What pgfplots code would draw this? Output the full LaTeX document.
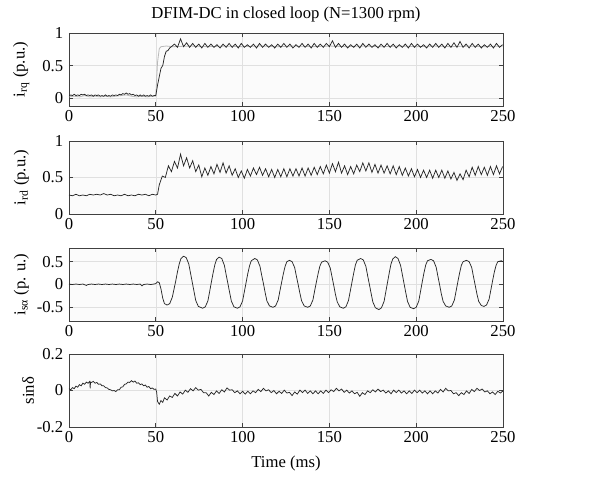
\documentclass[border=0pt]{standalone}
\usepackage{fontspec}
\setmainfont{Liberation Serif}
\usepackage{pgfplots}
\pgfplotsset{compat=1.18}
\begin{document}
\fontsize{12.5}{15}\selectfont
\begin{tikzpicture}
\useasboundingbox (-51.75pt,24.75pt) rectangle (403.5pt,-333pt);
\pgfplotsset{
  panel/.style={
    scale only axis, width=325.5pt, height=54.75pt,
    anchor=north west,
    xmin=0, xmax=250, xtick={0,50,100,150,200,250},
    tick align=inside, xtick pos=both, ytick pos=both,
    major tick length=3pt,
    grid=major, major grid style={black!12, line width=0.4pt},
    axis line style={black!75, line width=0.5pt},
    every tick/.style={black!75, line width=0.5pt},
    axis background/.style={fill=black!1.5},
    tick label style={font=\fontsize{12.5}{15}\selectfont},
    label style={font=\fontsize{12.5}{15}\selectfont},
    xticklabel style={yshift=1pt},
    /pgf/number format/assume math mode=true,
    every axis y label/.style={at={(axis description cs:-0.11,0.5)}, rotate=90, anchor=center},
  },
  sig/.style={black!85, line width=0.55pt, mark=none},
}
% ---------- panel 1: i_rq ----------
\begin{axis}[panel, at={(0pt,0pt)}, ymin=-0.12, ymax=1.0, ytick={0,0.5,1},
  title={DFIM-DC in closed loop (N=1300 rpm)},
  title style={font=\fontsize{12.5}{15}\selectfont, yshift=-2pt},
  ylabel={i\textsubscript{rq} (p.u.)}]
\addplot[gray!55, line width=0.6pt] coordinates {
(0,0.02)(3,0.03)(6,0.02)(9,0.04)(12,0.02)(15,0.03)(18,0.02)(21,0.03)(24,0.02)(27,0.03)(30,0.04)(33,0.05)(36,0.03)(39,0.02)(42,0.03)(45,0.02)(48,0.03)(50,0.03)(51,0.55)(52,0.76)(53,0.79)(56,0.80)(60,0.79)(70,0.80)(80,0.79)(90,0.80)(100,0.79)(110,0.80)(120,0.79)(130,0.80)(140,0.79)(150,0.80)(160,0.79)(170,0.80)(180,0.79)(190,0.80)(200,0.79)(210,0.80)(220,0.79)(230,0.80)(240,0.79)(250,0.80)};
\addplot[sig] coordinates {
(0,0.03)(1,0.05)(2,0.04)(3,0.06)(4,0.04)(5,0.05)(6,0.04)(7,0.06)(8,0.05)(9,0.06)(10,0.04)(11,0.05)(12,0.04)(13,0.05)(14,0.03)(15,0.05)(16,0.04)(17,0.05)(18,0.03)(19,0.04)(20,0.03)(21,0.05)(22,0.03)(23,0.04)(24,0.03)(25,0.05)(26,0.04)(27,0.05)(28,0.04)(29,0.06)(30,0.05)(31,0.07)(32,0.06)(33,0.08)(34,0.06)(35,0.07)(36,0.05)(37,0.06)(38,0.04)(39,0.05)(40,0.03)(41,0.05)(42,0.03)(43,0.05)(44,0.03)(45,0.04)(46,0.03)(47,0.05)(48,0.03)(49,0.04)(50,0.04)(51,0.20)(52,0.33)(53,0.46)(54,0.50)(55,0.64)(56,0.72)(57,0.73)(58,0.77)
(59,0.79)(60.75,0.83)(62.5,0.78)(64.25,0.91)(66,0.79)(67.75,0.85)(69.5,0.78)(71.25,0.84)(73,0.78)(74.75,0.83)(76.5,0.77)(78.25,0.84)(80,0.78)(81.75,0.83)(83.5,0.78)(85.25,0.82)(87,0.77)(88.75,0.83)(90.5,0.78)(92.25,0.84)(94,0.78)(95.75,0.83)(97.5,0.77)(99.25,0.84)(101,0.78)(102.75,0.82)(104.5,0.78)(106.25,0.83)(108,0.77)(109.75,0.84)(111.5,0.78)(113.25,0.83)(115,0.78)(116.75,0.82)(118.5,0.77)(120.25,0.83)(122,0.78)(123.75,0.84)(125.5,0.78)(127.25,0.83)(129,0.77)(130.75,0.82)(132.5,0.78)(134.25,0.84)(136,0.78)(137.75,0.83)(139.5,0.77)(141.25,0.84)(143,0.78)(144.75,0.83)(146.5,0.78)(148.25,0.84)(150,0.79)(151.75,0.88)(153.5,0.78)(155.25,0.84)(157,0.78)(158.75,0.83)(160.5,0.77)(162.25,0.82)(164,0.78)(165.75,0.83)(167.5,0.77)(169.25,0.84)(171,0.78)(172.75,0.83)(174.5,0.78)(176.25,0.82)(178,0.77)(179.75,0.83)(181.5,0.78)(183.25,0.84)(185,0.78)(186.75,0.83)(188.5,0.77)(190.25,0.82)(192,0.78)(193.75,0.83)(195.5,0.77)(197.25,0.84)(199,0.78)(200.75,0.83)(202.5,0.78)(204.25,0.82)(206,0.77)(207.75,0.83)(209.5,0.78)(211.25,0.84)(213,0.78)(214.75,0.83)(216.5,0.77)(218.25,0.84)(220,0.78)(221.75,0.85)(223.5,0.78)(225.25,0.87)(227,0.78)(228.75,0.83)(230.5,0.77)(232.25,0.84)(234,0.78)(235.75,0.83)(237.5,0.77)(239.25,0.82)(241,0.78)(242.75,0.83)(244.5,0.77)(246.25,0.84)(248,0.78)(249.75,0.82)};
\end{axis}
% ---------- panel 2: i_rd ----------
\begin{axis}[panel, at={(0pt,-81pt)}, ymin=0, ymax=1, ytick={0,0.5,1},
  ylabel={i\textsubscript{rd} (p.u.)}]
\addplot[sig] coordinates {
(0,0.26)(2,0.25)(4,0.27)(6,0.25)(8,0.26)(10,0.25)(12,0.27)(14,0.26)(16,0.27)(18,0.26)(20,0.28)(22,0.26)(24,0.27)(26,0.25)(28,0.26)(30,0.25)(32,0.27)(34,0.25)(36,0.26)(38,0.25)(40,0.27)(42,0.26)(44,0.27)(46,0.25)(48,0.27)(50,0.26)(51,0.27)(52,0.40)(53.75,0.52)(55.5,0.50)(57.25,0.66)(59,0.58)(60.75,0.72)(62.5,0.63)(64.25,0.82)(66,0.66)(67.75,0.77)(69.5,0.63)(71.25,0.73)(73,0.58)(74.75,0.67)(76.5,0.51)(78.25,0.63)(80,0.53)(81.75,0.65)(83.5,0.55)(85.25,0.68)(87,0.57)(88.75,0.70)(90.5,0.56)(92.25,0.66)(94,0.53)(95.75,0.62)(97.5,0.50)(99.25,0.59)(101,0.49)(102.75,0.61)(104.5,0.52)(106.25,0.63)(108,0.54)(109.75,0.64)(111.5,0.53)(113.25,0.62)(115,0.51)(116.75,0.61)(118.5,0.50)(120.25,0.61)(122,0.51)(123.75,0.62)(125.5,0.51)(127.25,0.62)(129,0.52)(130.75,0.62)(132.5,0.52)(134.25,0.63)(136,0.52)(137.75,0.63)(139.5,0.53)(141.25,0.64)(143,0.54)(144.75,0.65)(146.5,0.55)(148.25,0.67)(150,0.56)(151.75,0.69)(153.5,0.58)(155.25,0.71)(157,0.56)(158.75,0.66)(160.5,0.54)(162.25,0.65)(164,0.55)(165.75,0.67)(167.5,0.58)(169.25,0.70)(171,0.59)(172.75,0.70)(174.5,0.57)(176.25,0.68)(178,0.56)(179.75,0.67)(181.5,0.56)(183.25,0.66)(185,0.55)(186.75,0.66)(188.5,0.54)(190.25,0.65)(192,0.53)(193.75,0.63)(195.5,0.52)(197.25,0.62)(199,0.51)(200.75,0.61)(202.5,0.50)(204.25,0.60)(206,0.50)(207.75,0.60)(209.5,0.49)(211.25,0.60)(213,0.50)(214.75,0.60)(216.5,0.49)(218.25,0.59)(220,0.48)(221.75,0.57)(223.5,0.46)(225.25,0.55)(227,0.47)(228.75,0.60)(230.5,0.51)(232.25,0.64)(234,0.53)(235.75,0.65)(237.5,0.54)(239.25,0.64)(241,0.53)(242.75,0.65)(244.5,0.54)(246.25,0.66)(248,0.55)(249.75,0.65)};
\end{axis}
% ---------- panel 3: i_s alpha ----------
\begin{axis}[panel, at={(0pt,-161.25pt)}, ymin=-0.8, ymax=0.8, ytick={-0.5,0,0.5},
  ylabel={i\textsubscript{sα} (p. u.)}]
\addplot[sig] coordinates {
(0,0.01)(2,0.00)(4,0.01)(6,0.00)(8,0.01)(10,-0.02)(11,0.00)(13,0.01)(15,0.00)(17,0.01)(19,0.00)(21,0.01)(23,0.00)(25,0.01)(27,0.00)(29,0.01)(31,0.00)(33,0.01)(35,0.00)(37,0.01)(39,0.00)(41,0.01)(42,-0.03)(43,0.00)(45,0.01)(47,0.00)(49,0.01)(50,0.02)(51,0.06)(52,0.04)(53,-0.10)(54,-0.30)(55,-0.42)(56.5,-0.45)(58,-0.42)(59.5,-0.28)(60.5,-0.10)(61.5,0.08)(62.5,0.28)(63.5,0.45)(64.5,0.57)(66,0.62)(67.5,0.59)(69,0.45)(70,0.25)(71,0.05)(72,-0.15)(73,-0.35)(74.5,-0.48)(77,-0.52)(78.5,-0.49)(80,-0.36)(81,-0.16)(82,0.05)(83,0.25)(84,0.43)(85,0.55)(86.5,0.60)(88,0.57)(89.5,0.42)(90.5,0.22)(91.5,0.03)(92.5,-0.17)(93.5,-0.36)(95,-0.49)(97,-0.52)(98.5,-0.49)(100,-0.36)(101,-0.16)(102,0.04)(103,0.24)(104,0.41)(105,0.52)(107,0.57)(108.5,0.54)(110,0.40)(111,0.20)(112,0.02)(113,-0.18)(114,-0.36)(115.5,-0.47)(117.5,-0.50)(119,-0.47)(120.5,-0.34)(121.5,-0.14)(122.5,0.05)(123.5,0.24)(124.5,0.40)(125.5,0.50)(127,0.53)(128.5,0.50)(130,0.37)(131,0.18)(132,0.00)(133,-0.19)(134,-0.36)(135.5,-0.47)(137.5,-0.50)(139,-0.47)(140.5,-0.34)(141.5,-0.14)(142.5,0.05)(143.5,0.24)(144.5,0.40)(145.5,0.49)(147.5,0.52)(149,0.49)(150.5,0.36)(151.5,0.17)(152.5,-0.02)(153.5,-0.22)(154.5,-0.38)(156,-0.49)(158,-0.52)(159.5,-0.49)(161,-0.35)(162,-0.15)(163,0.05)(164,0.25)(165,0.43)(166,0.53)(168,0.57)(169.5,0.54)(171,0.40)(172,0.20)(173,0.01)(174,-0.19)(175,-0.38)(176.5,-0.51)(178.5,-0.55)(180,-0.51)(181.5,-0.37)(182.5,-0.16)(183.5,0.05)(184.5,0.26)(185.5,0.45)(186.5,0.56)(188,0.61)(189.5,0.57)(191,0.42)(192,0.22)(193,0.02)(194,-0.18)(195,-0.37)(196.5,-0.50)(198.5,-0.53)(200,-0.50)(201.5,-0.36)(202.5,-0.15)(203.5,0.06)(204.5,0.26)(205.5,0.43)(206.5,0.52)(208.5,0.55)(210,0.52)(211.5,0.38)(212.5,0.18)(213.5,-0.01)(214.5,-0.21)(215.5,-0.37)(217,-0.47)(219,-0.50)(220.5,-0.47)(222,-0.34)(223,-0.14)(224,0.06)(225,0.25)(226,0.42)(227,0.50)(229,0.53)(230.5,0.50)(232,0.37)(233,0.17)(234,-0.02)(235,-0.21)(236,-0.37)(237.5,-0.46)(239,-0.48)(240.5,-0.45)(242,-0.32)(243,-0.12)(244,0.08)(245,0.27)(246,0.42)(247,0.50)(249,0.52)(250,0.50)};
\end{axis}
% ---------- panel 4: sin delta ----------
\begin{axis}[panel, at={(0pt,-240.75pt)}, ymin=-0.2, ymax=0.2, ytick={-0.2,0,0.2},
  ylabel={sinδ}, xlabel={Time (ms)},
  xlabel style={yshift=-1pt},
  every axis y label/.style={at={(axis description cs:-0.094,0.5)}, rotate=90, anchor=center}]
\addplot[sig] coordinates {
(0,0.010)(1,0.004)(2,0.016)(3,0.010)(4,0.024)(5,0.018)(6,0.032)(7,0.026)(8,0.040)(9,0.034)(10,0.046)(11,0.040)(12,0.050)(12.2,0.012)(12.4,0.046)(13,0.044)(14,0.050)(15,0.040)(16,0.044)(17,0.034)(18,0.036)(19,0.026)(20,0.026)(21,0.016)(22,0.014)(23,0.006)(24,0.004)(25,-0.002)(26,0.000)(27,-0.006)(28,0.004)(29,0.004)(30,0.018)(31,0.020)(32,0.034)(33,0.036)(34,0.046)(35,0.044)(36,0.054)(37,0.046)(38,0.052)(39,0.040)(40,0.042)(41,0.032)(42,0.036)(43,0.026)(44,0.030)(45,0.018)(46,0.022)(47,0.010)(48,0.014)(49,0.006)(50,0.008)(50.5,-0.010)(51,-0.060)(52,-0.075)(53,-0.055)(54,-0.065)
(55,-0.040)(56.5,-0.052)(58,-0.030)(59.5,-0.038)(61,-0.016)(62.5,-0.030)(64,-0.008)(65.5,-0.020)(67,0.002)(68.5,-0.010)(70,0.010)(71.5,-0.002)(73,0.016)(74.5,0.002)(76,0.006)(77.5,-0.012)(79,-0.012)(80.5,-0.030)(82,-0.010)(83.5,-0.022)(85,-0.002)(86.5,-0.016)(88,0.004)(89.5,-0.008)(91,0.014)(92.5,0.002)(94,0.004)(95.5,-0.012)(97,-0.002)(98.5,-0.018)(100,-0.004)(101.5,-0.020)(103,-0.004)(104.5,-0.018)(106,-0.002)(107.5,-0.012)(109,0.006)(110.5,-0.006)(112,0.012)(113.5,-0.002)(115,0.004)(116.5,-0.012)(118,0.000)(119.5,-0.018)(121,-0.004)(122.5,-0.016)(124,0.002)(125.5,-0.014)(127,-0.010)(128.5,-0.028)(130,-0.008)(131.5,-0.020)(133,0.002)(134.5,-0.012)(136,0.002)(137.5,-0.016)(139,-0.002)(140.5,-0.018)(142,-0.002)(143.5,-0.018)(145,-0.002)(146.5,-0.016)(148,0.002)(149.5,-0.012)(151,0.004)(152.5,-0.006)(154,0.012)(155.5,-0.002)(157,0.008)(158.5,-0.010)(160,0.002)(161.5,-0.014)(163,-0.002)(164.5,-0.018)(166,-0.010)(167.5,-0.032)(169,-0.012)(170.5,-0.022)(172,-0.002)(173.5,-0.012)(175,0.004)(176.5,-0.008)(178,0.008)(179.5,-0.006)(181,0.002)(182.5,-0.014)(184,-0.002)(185.5,-0.018)(187,0.002)(188.5,-0.012)(190,0.002)(191.5,-0.014)(193,-0.002)(194.5,-0.018)(196,-0.002)(197.5,-0.016)(199,0.002)(200.5,-0.012)(202,0.002)(203.5,-0.014)(205,-0.002)(206.5,-0.018)(208,-0.002)(209.5,-0.018)(211,-0.002)(212.5,-0.014)(214,0.006)(215.5,-0.008)(217,0.012)(218.5,-0.002)(220,0.000)(221.5,-0.018)(223,-0.012)(224.5,-0.028)(226,-0.012)(227.5,-0.022)(229,-0.002)(230.5,-0.016)(232,0.006)(233.5,-0.006)(235,0.012)(236.5,0.000)(238,0.008)(239.5,-0.008)(241,-0.002)(242.5,-0.018)(244,-0.008)(245.5,-0.022)(247,-0.004)(248.5,-0.014)(250,-0.002)};
\end{axis}
\end{tikzpicture}
\end{document}
